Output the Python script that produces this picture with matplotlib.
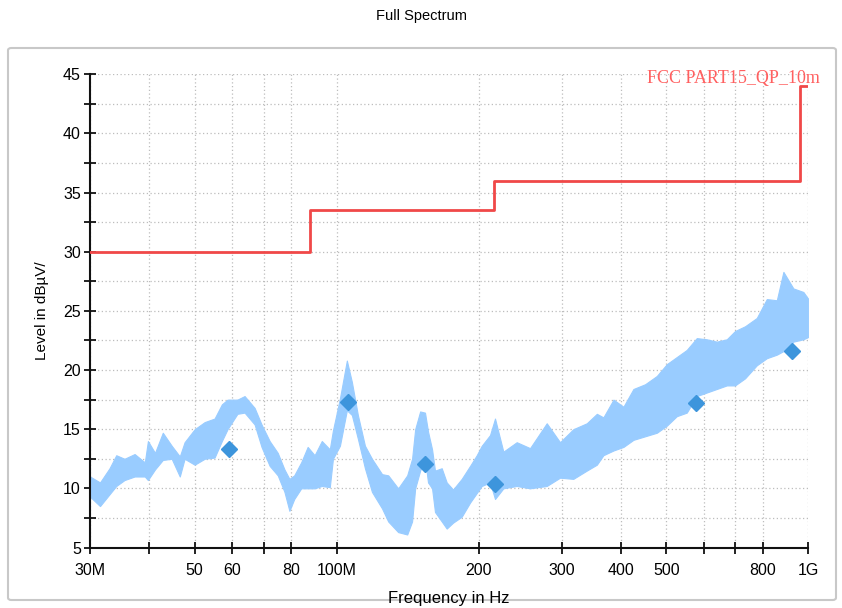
import matplotlib
matplotlib.use("Agg")
import matplotlib.pyplot as plt
from matplotlib.patches import FancyBboxPatch
from matplotlib.ticker import FixedLocator, FixedFormatter, MultipleLocator

# Spectrum envelope (MHz, dBuV/m low / high)
freq_mhz = [30.0, 31.5, 33.0, 34.1, 35.5, 37.3, 39.2, 39.8, 41.2, 42.8,
            44.7, 46.5, 47.6, 50.0, 52.5, 55.1, 57.1, 58.7, 61.6, 63.8,
            67.0, 69.3, 72.1, 75.0, 77.5, 79.4, 81.3, 84.1, 86.8, 89.8,
            93.0, 96.7, 98.2, 101.6, 105.1, 107.7, 110.9, 114.8, 118.8, 124.8,
            128.6, 135.0, 141.1, 144.5, 146.7, 150.3, 153.9, 156.2, 159.3, 161.6,
            167.0, 171.1, 176.5, 184.1, 191.8, 198.1, 203.0, 211.4, 216.6, 225.6,
            240.8, 257.0, 278.8, 297.5, 317.4, 339.0, 356.1, 367.6, 386.2, 405.4,
            425.7, 450.7, 477.2, 501.1, 526.0, 552.2, 579.9, 608.9, 639.4, 671.4,
            699.0, 734.0, 777.2, 816.2, 857.1, 885.1, 929.2, 975.7, 1000.0]
level_lo = [9.3, 8.5, 9.5, 10.2, 10.7, 11.0, 11.0, 10.7, 11.6, 12.4,
            12.5, 11.0, 12.5, 12.0, 12.5, 12.6, 14.0, 15.0, 16.3, 16.4,
            15.4, 13.5, 11.9, 11.1, 9.7, 8.1, 9.1, 10.0, 10.0, 10.0,
            10.2, 10.1, 12.5, 13.6, 16.6, 16.2, 14.2, 11.7, 9.7, 8.3,
            7.2, 6.3, 6.1, 7.2, 10.0, 11.5, 12.5, 10.5, 10.0, 8.0,
            7.2, 6.6, 7.1, 7.6, 8.8, 9.6, 10.2, 10.5, 9.1, 10.0,
            10.2, 10.0, 10.2, 10.9, 10.8, 11.5, 12.0, 12.8, 13.2, 13.5,
            14.1, 14.4, 14.7, 15.3, 16.1, 16.4, 17.8, 18.1, 18.4, 18.7,
            18.7, 19.3, 20.4, 21.0, 21.3, 21.6, 22.4, 22.6, 22.8]
level_hi = [11.0, 10.5, 11.7, 12.8, 12.5, 12.9, 12.2, 14.0, 13.0, 14.7,
            13.6, 12.7, 13.9, 15.0, 15.6, 15.9, 17.1, 17.5, 17.5, 17.8,
            16.8, 15.4, 14.0, 13.0, 11.6, 10.8, 11.1, 12.2, 13.5, 12.8,
            14.0, 13.3, 14.9, 17.6, 20.8, 19.0, 16.2, 13.6, 12.5, 11.2,
            11.1, 10.0, 11.1, 12.5, 15.0, 16.5, 16.4, 14.8, 13.3, 11.5,
            11.7, 10.5, 9.9, 10.8, 11.9, 12.8, 13.6, 14.5, 15.9, 13.1,
            13.9, 13.4, 15.5, 13.9, 15.0, 15.5, 16.3, 16.0, 17.5, 16.9,
            18.4, 18.8, 19.5, 20.5, 21.1, 21.7, 22.7, 22.6, 22.4, 22.6,
            23.3, 23.7, 24.4, 26.0, 25.9, 28.3, 26.9, 26.6, 26.0]

# Final measurement markers
marker_mhz = [59.1, 105.8, 153.9, 216.6, 577.9, 923.0]
marker_level = [13.3, 17.3, 12.1, 10.4, 17.2, 21.6]

# FCC Part 15 QP 10 m limit
limit_mhz = [30, 88, 88, 216, 216, 960, 960, 1000]
limit_level = [30.0, 30.0, 33.5, 33.5, 36.0, 36.0, 44.0, 44.0]

xtick_mhz = [30, 40, 50, 60, 70, 80, 100, 200, 300, 400, 500, 600, 700, 800, 1000]
xtick_labels = ["30M", "", "50", "60", "", "80", "100M", "200", "300",
                "400", "500", "", "", "800", "1G"]

plt.rcParams["font.family"] = ["Liberation Sans", "DejaVu Sans"]

W, H = 842, 608
fig = plt.figure(figsize=(W / 100, H / 100), dpi=100)
fig.patch.set_facecolor("white")

# rounded frame around the plot area
frame = FancyBboxPatch((8 / W, 1 - 600 / H), 828 / W, 552 / H,
                       boxstyle="round,pad=0,rounding_size=0.004",
                       transform=fig.transFigure, facecolor="none",
                       edgecolor="#c8c8c8", linewidth=1.5, zorder=-1)
fig.patches.append(frame)

ax = fig.add_axes([90 / W, 1 - 547.5 / H, 718.4 / W, 473.2 / H])
ax.set_facecolor("none")

ax.fill_between(freq_mhz, level_lo, level_hi, color="#99ccff",
                linewidth=0.8, edgecolor="#99ccff", zorder=2)
ax.plot(limit_mhz, limit_level, color="#f04848", linewidth=2.0, zorder=3)
ax.plot(marker_mhz, marker_level, linestyle="none", marker="D",
        markersize=8.5, color="#3d95dc", zorder=4)

ax.set_xscale("log")
ax.set_xlim(30, 1000)
ax.set_ylim(5, 45)

ax.xaxis.set_major_locator(FixedLocator(xtick_mhz))
ax.xaxis.set_major_formatter(FixedFormatter(xtick_labels))
ax.xaxis.set_minor_locator(FixedLocator([]))
ax.yaxis.set_major_locator(MultipleLocator(5))
ax.yaxis.set_minor_locator(MultipleLocator(2.5))

ax.grid(True, which="both", color="#bdbdbd", linestyle=(0, (1, 2)), linewidth=0.9)
ax.set_axisbelow(True)

for side in ["top", "right"]:
    ax.spines[side].set_visible(False)
for side in ["left", "bottom"]:
    ax.spines[side].set_linewidth(1.5)
    ax.spines[side].set_color("#111111")

ax.tick_params(axis="both", which="both", direction="inout", length=9,
               width=1.3, color="#111111", labelsize=11.5)
ax.tick_params(axis="x", pad=7)
ax.tick_params(axis="y", pad=2)

ax.set_xlabel("Frequency in Hz", fontsize=12, labelpad=9)
ax.set_ylabel("Level in dBµV/", fontsize=11, labelpad=10)

fig.text(421 / W, 1 - 16 / H, "Full Spectrum", ha="center", va="center", fontsize=10.5)
fig.text(647 / W, 1 - 78 / H, "FCC PART15_QP_10m", ha="left", va="center",
         fontsize=13, color="#ff6060", family=["Liberation Serif", "DejaVu Serif"])

fig.savefig("out.png", dpi=100)
